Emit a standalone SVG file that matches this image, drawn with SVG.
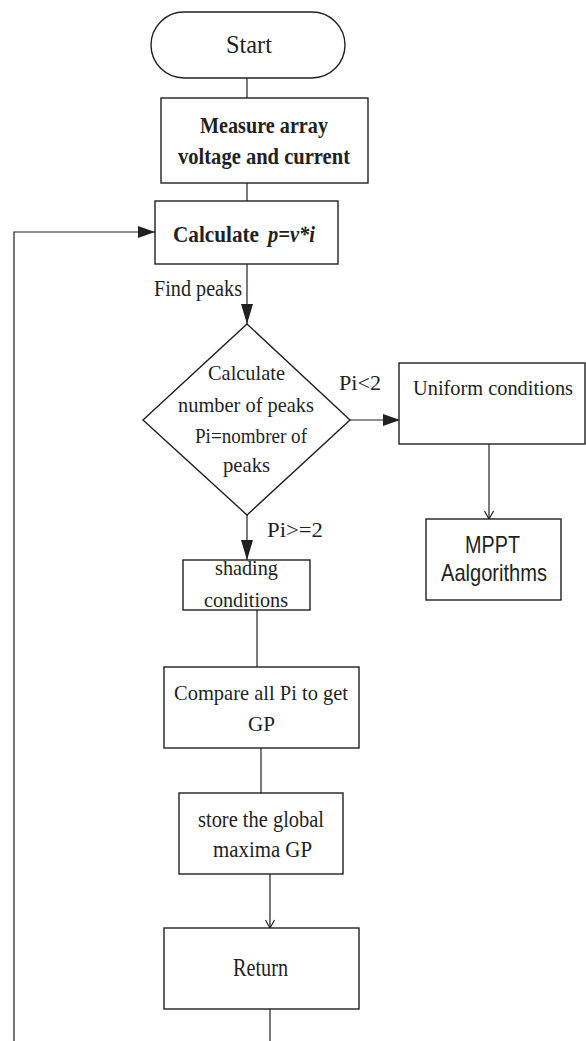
<svg xmlns="http://www.w3.org/2000/svg" width="586" height="1041" viewBox="0 0 586 1041">
<style>
.box{fill:#fff;stroke:#231f20;stroke-width:1.4}
.ln{fill:none;stroke:#231f20;stroke-width:1.2}
.t{font-family:"Liberation Serif","Times New Roman",serif;fill:#231f20;text-anchor:middle}
.b{font-weight:bold}
.st{text-anchor:start}
.s{font-family:"Liberation Sans",Arial,sans-serif;fill:#231f20;text-anchor:middle}
</style>
<defs>
<marker id="fill" markerWidth="20" markerHeight="12" refX="20" refY="6" orient="auto" markerUnits="userSpaceOnUse">
<path d="M0,0 L20,6 L0,12 Z" fill="#231f20"/>
</marker>
<marker id="fillh" markerWidth="17" markerHeight="12" refX="17" refY="6" orient="auto" markerUnits="userSpaceOnUse">
<path d="M0,0 L17,6 L0,12 Z" fill="#231f20"/>
</marker>
<marker id="open" markerWidth="12" markerHeight="10" refX="9" refY="5" orient="auto" markerUnits="userSpaceOnUse">
<path d="M1,0.5 L9,5 L1,9.5" fill="none" stroke="#231f20" stroke-width="1.2"/>
</marker>
</defs>
<rect width="586" height="1041" fill="#fff"/>
<g id="connectors">
<line class="ln" x1="247" y1="78" x2="247" y2="98"/>
<line class="ln" x1="247" y1="183" x2="247" y2="201"/>
<line class="ln" x1="247" y1="264" x2="247" y2="324" marker-end="url(#fill)"/>
<line class="ln" x1="350" y1="420" x2="400" y2="420" marker-end="url(#fillh)"/>
<line class="ln" x1="489" y1="444" x2="489" y2="519" marker-end="url(#open)"/>
<line class="ln" x1="247" y1="515" x2="247" y2="560" marker-end="url(#fill)"/>
<line class="ln" x1="257" y1="610" x2="257" y2="667"/>
<line class="ln" x1="261" y1="748" x2="261" y2="793"/>
<line class="ln" x1="270" y1="874" x2="270" y2="928" marker-end="url(#open)"/>
<line class="ln" x1="270" y1="1009" x2="270" y2="1041"/>
<polyline class="ln" points="14,1041 14,232 155,232" marker-end="url(#fillh)"/>
<text class="t" x="198" y="296" font-size="24" textLength="88" lengthAdjust="spacingAndGlyphs">Find peaks</text>
<text class="t" x="360" y="390" font-size="22" textLength="42" lengthAdjust="spacingAndGlyphs">Pi&lt;2</text>
<text class="t" x="295" y="537" font-size="22" textLength="56" lengthAdjust="spacingAndGlyphs">Pi&gt;=2</text>
</g>
<g id="start">
<rect class="box" x="151" y="12" width="194" height="66" rx="33" ry="33"/>
<text class="t" x="249" y="53" font-size="26" textLength="46" lengthAdjust="spacingAndGlyphs">Start</text>
</g>
<g id="measure">
<rect class="box" x="161" y="98" width="207" height="85"/>
<text class="t b" x="264" y="133" font-size="23" textLength="128" lengthAdjust="spacingAndGlyphs">Measure array</text>
<text class="t b" x="264" y="164" font-size="23" textLength="172" lengthAdjust="spacingAndGlyphs">voltage and current</text>
</g>
<g id="calculate">
<rect class="box" x="155" y="201" width="183" height="63"/>
<text class="t b st" x="173" y="242" font-size="24" textLength="86" lengthAdjust="spacingAndGlyphs">Calculate</text>
<text class="t b st" x="268" y="242" font-size="24" font-style="italic" textLength="47" lengthAdjust="spacingAndGlyphs">p=v*i</text>
</g>
<g id="decision">
<polygon class="box" points="247,324 350,420 247,515 143,420"/>
<text class="t" x="246.5" y="380" font-size="22" textLength="77" lengthAdjust="spacingAndGlyphs">Calculate</text>
<text class="t" x="246" y="412" font-size="22" textLength="136" lengthAdjust="spacingAndGlyphs">number of peaks</text>
<text class="t" x="251" y="443" font-size="22" textLength="112" lengthAdjust="spacingAndGlyphs">Pi=nombrer of</text>
<text class="t" x="246.5" y="472" font-size="22" textLength="47" lengthAdjust="spacingAndGlyphs">peaks</text>
</g>
<g id="uniform">
<rect class="box" x="399" y="363" width="186" height="81"/>
<text class="t" x="493" y="395" font-size="21" textLength="160" lengthAdjust="spacingAndGlyphs">Uniform conditions</text>
</g>
<g id="mppt">
<rect class="box" x="426" y="519" width="135" height="81"/>
<text class="s" x="492.5" y="553" font-size="24" textLength="55" lengthAdjust="spacingAndGlyphs">MPPT</text>
<text class="s" x="494" y="581" font-size="24" textLength="106" lengthAdjust="spacingAndGlyphs">Aalgorithms</text>
</g>
<g id="shading">
<rect class="box" x="183" y="560" width="127" height="50"/>
<text class="t" x="246.5" y="575" font-size="21" textLength="63" lengthAdjust="spacingAndGlyphs">shading</text>
<text class="t" x="246" y="607" font-size="21" textLength="84" lengthAdjust="spacingAndGlyphs">conditions</text>
</g>
<g id="compare">
<rect class="box" x="164" y="667" width="195" height="81"/>
<text class="t" x="261" y="700" font-size="22" textLength="174" lengthAdjust="spacingAndGlyphs">Compare all Pi to get</text>
<text class="t" x="261.5" y="731" font-size="22" textLength="27" lengthAdjust="spacingAndGlyphs">GP</text>
</g>
<g id="store">
<rect class="box" x="179" y="793" width="164" height="81"/>
<text class="t" x="261" y="827" font-size="23" textLength="126" lengthAdjust="spacingAndGlyphs">store the global</text>
<text class="t" x="262.5" y="857" font-size="23" textLength="99" lengthAdjust="spacingAndGlyphs">maxima GP</text>
</g>
<g id="return">
<rect class="box" x="164" y="928" width="195" height="81"/>
<text class="t" x="260.5" y="976" font-size="25" textLength="55" lengthAdjust="spacingAndGlyphs">Return</text>
</g>
</svg>
